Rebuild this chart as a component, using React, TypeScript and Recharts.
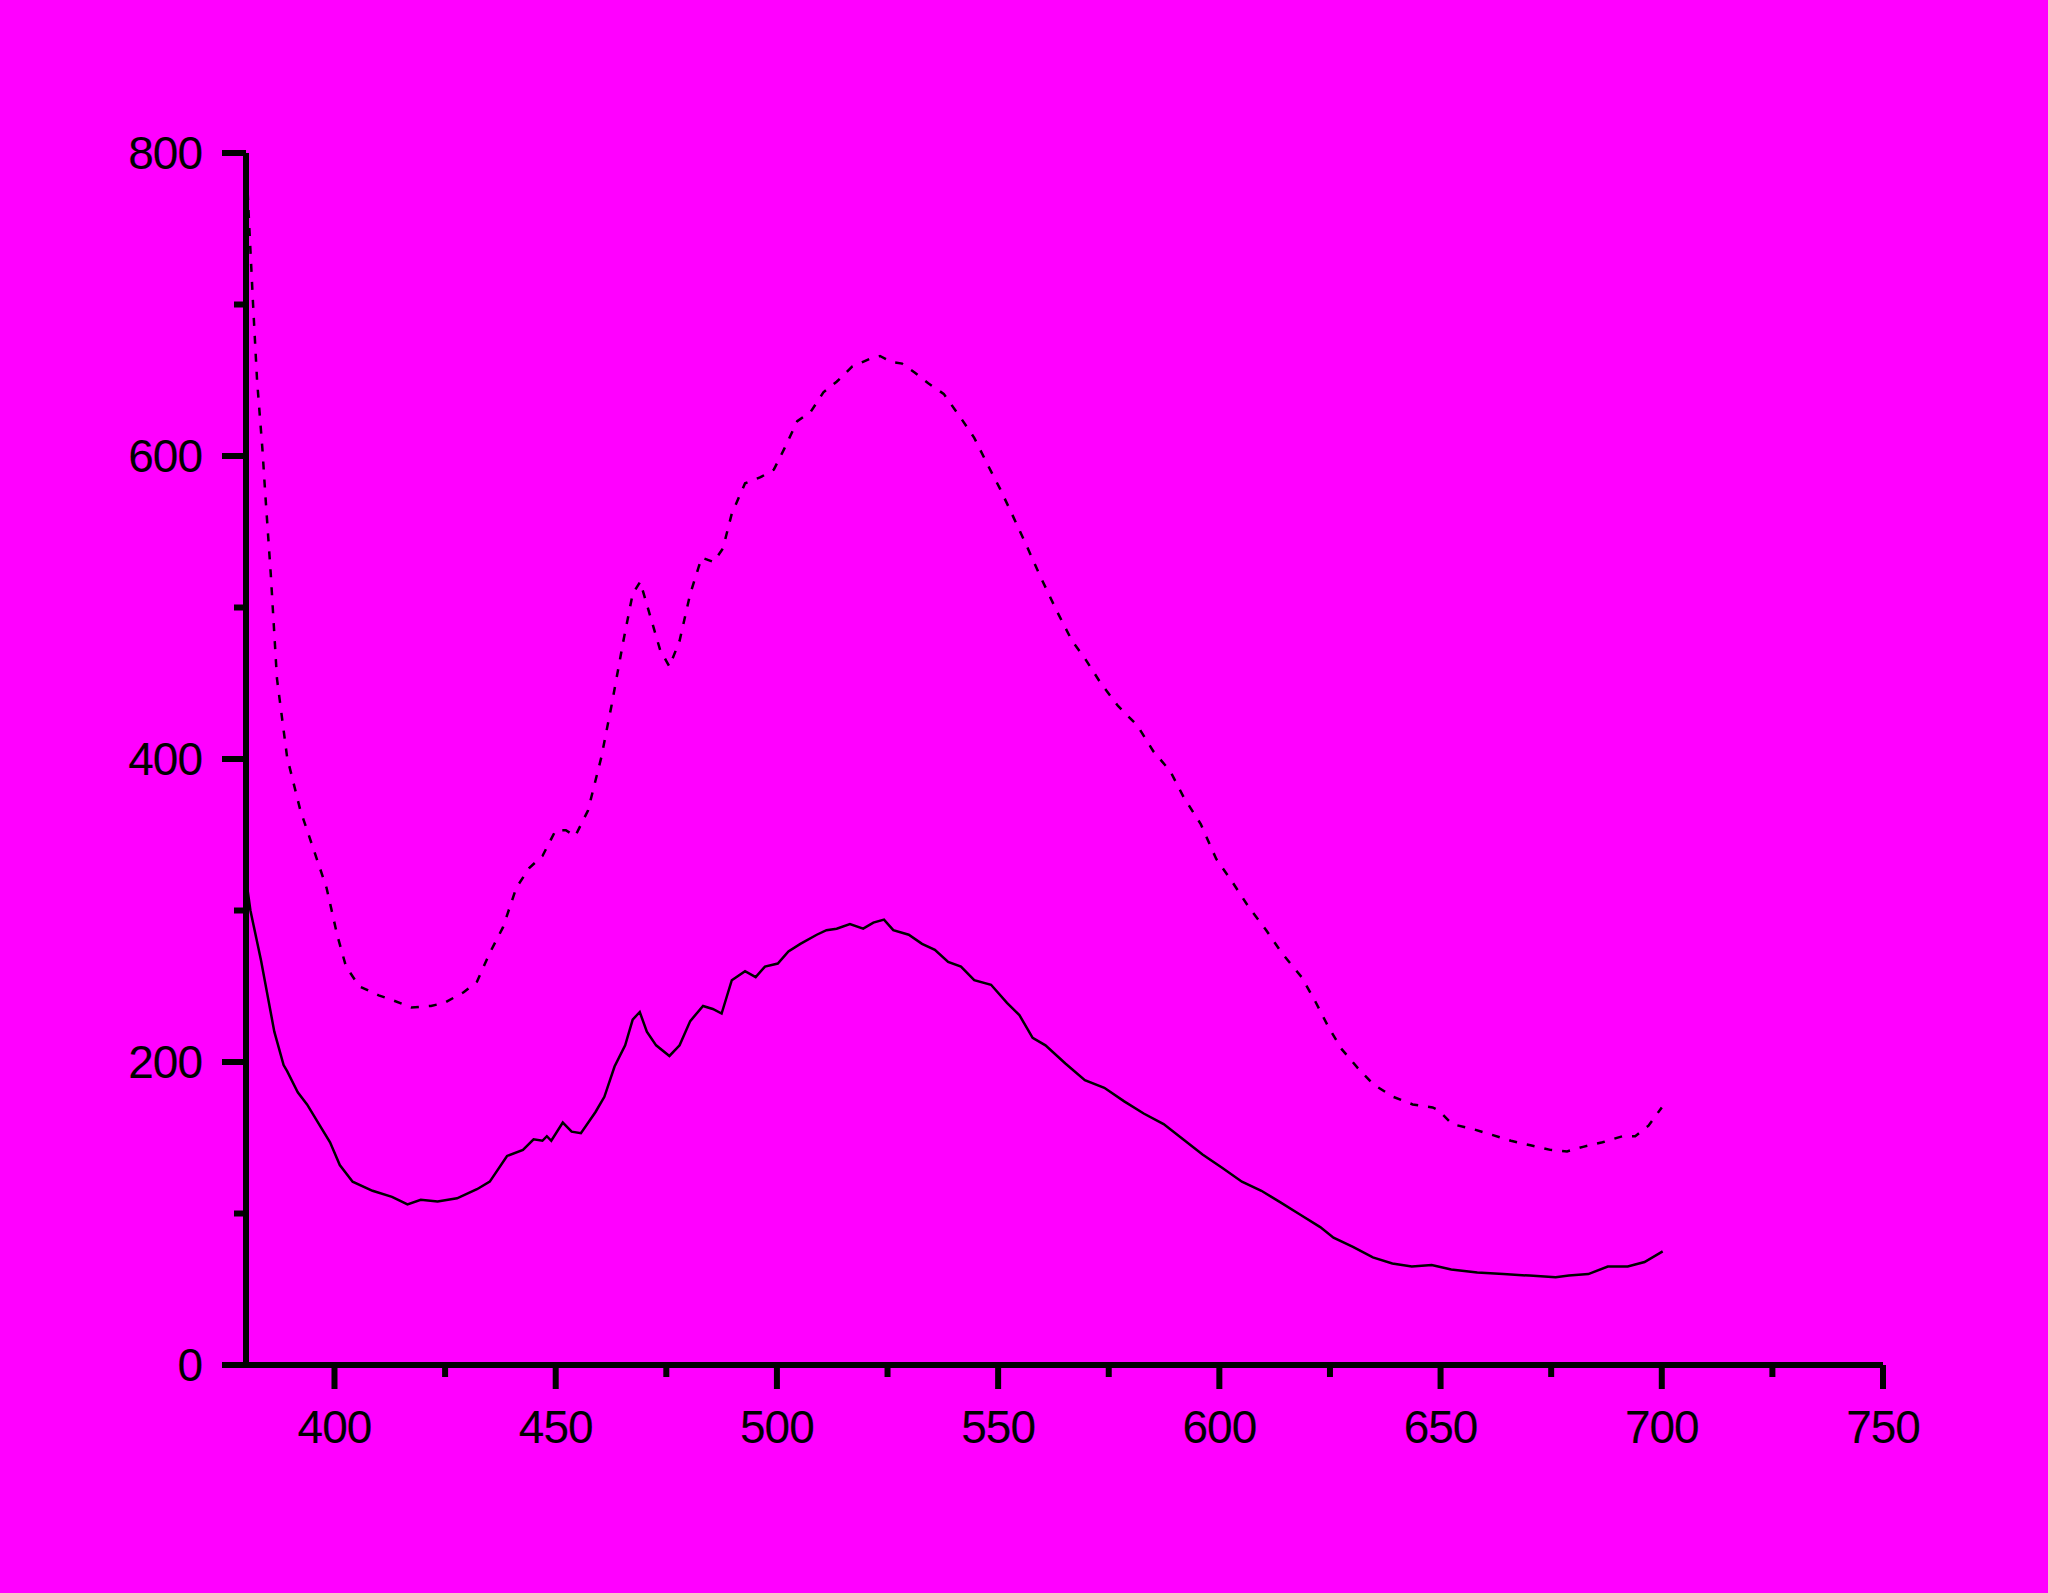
import { LineChart, Line, XAxis, YAxis } from "recharts"

const solidWl = [
  380, 381, 383.4, 386.4, 388.5, 389.3, 391.7, 393.8, 396.7, 399, 401.2, 404.1, 408.6, 413, 416.5, 419.5,
  423.3, 427.7, 432.2, 435.1, 439, 442.6, 445, 447, 448, 449, 451.6, 453.6, 455.7, 459, 461, 463.3, 465.7,
  467.4, 469, 470.6, 472.7, 475.7, 478, 480.4, 483.3, 485.5, 487.5, 489.8, 492.8, 495.2, 497.3, 500.2,
  502.6, 505.3, 509, 511.2, 513.5, 516.5, 519.5, 521.8, 524.2, 526.3, 529.8, 532.8, 535.7, 538.7, 541.6,
  544.6, 548.4, 552, 554.8, 557.8, 560.7, 565.2, 569.6, 574, 578.5, 582.9, 587.4, 591.8, 596.2, 600.7,
  605.1, 609.5, 614, 618.4, 622.8, 625.8, 630.2, 634.7, 639.1, 643.5, 648, 652.4, 658.3, 664.2, 670.1,
  676, 679, 683.4, 687.8, 692.3, 696.1, 700.2,
]
const solidVal = [
  321, 300, 267, 220, 198, 194, 180, 172, 158, 147, 132, 121, 115, 111, 106, 109,
  108, 110, 116, 121, 138, 142, 149, 148, 151, 148, 160, 154, 153, 167, 177, 197, 211,
  228, 233, 220, 211, 204, 211, 227, 237, 235, 232, 254, 260, 256, 263, 265,
  273, 278, 284, 287, 288, 291, 288, 292, 294, 287, 284, 278, 274, 266, 263,
  254, 251, 239, 231, 216, 211, 199, 188, 183, 174, 166, 159, 149, 139, 130,
  121, 115, 107, 99, 91, 84, 78, 71, 67, 65, 66, 63, 61, 60, 59,
  58, 59, 60, 65, 65, 68, 75,
]

const dashWl = [
  380, 380.6, 381.6, 382.5, 383.7, 384.4, 385.6, 387, 389.3, 392.3, 395.2, 398.2, 400.6, 402.6, 405.6,
  410, 413, 417.4, 421.8, 424.8, 429.2, 432.2, 435.1, 438.1, 441.1, 444, 447, 450, 452.3, 454.4, 457.3,
  460.3, 462.6, 465.3, 467.4, 469.1, 471.2, 473.6, 475.7, 478, 480.4, 483, 485.7, 487.8, 489.8, 492.8,
  496.3, 499.3, 501.7, 504.6, 507.6, 510.5, 513.5, 517, 520.9, 523.3, 525.9, 528.3, 531.2, 534.2, 537.7,
  541.6, 544.6, 547.5, 550.5, 553.4, 556.4, 559.3, 563.2, 566.7, 569.7, 573.2, 577.1, 581.5, 585.1,
  588.9, 591.9, 595.8, 599.3, 602.9, 606.7, 610.6, 614.1, 618.6, 621.5, 624.5, 627.5, 631.3, 634.9,
  639.3, 643.7, 648.2, 649.6, 652.6, 657, 661.5, 665.9, 670.3, 674.8, 678.6, 682.2, 686.6, 691.1, 694,
  697, 700,
]
const dashVal = [
  798, 760, 700, 650, 605, 573, 522, 453, 401, 366, 341, 315, 284, 263, 250,
  244, 241, 236, 237, 239, 246, 253, 272, 289, 315, 328, 336, 353, 353, 349, 366,
  401, 435, 478, 509, 517, 496, 472, 461, 478, 509, 533, 530, 539, 562, 582,
  586, 591, 605, 623, 629, 642, 649, 659, 664, 666, 662, 661, 655, 648, 641,
  625, 612, 595, 578, 560, 541, 522, 498, 478, 466, 450, 435, 422, 405,
  392, 375, 357, 334, 319, 302, 287, 272, 256, 241, 224, 209, 196, 185,
  177, 172, 170, 168, 159, 156, 152, 148, 145, 142, 141, 144, 147, 151, 151,
  158, 170,
]

const xTicks = [400, 425, 450, 475, 500, 525, 550, 575, 600, 625, 650, 675, 700, 725, 750]
const yTicks = [0, 100, 200, 300, 400, 500, 600, 700, 800]

const solidData = solidWl.map((x, i) => ({ x, y: solidVal[i] }))
const dashData = dashWl.map((x, i) => ({ x, y: dashVal[i] }))

const font = "'Liberation Sans', Arial, sans-serif"

// tickSize/tickMargin are 0, so x,y given to the tick is the point on the axis line
const XTick = (props: any) => {
  const { x, y, payload } = props
  const major = payload.value % 50 === 0
  return (
    <g>
      <line x1={x} x2={x} y1={y} y2={y + (major ? 24 : 12)} stroke="#000" strokeWidth={6} />
      {major && (
        <text x={x} y={y + 78} textAnchor="middle" fontSize={46} fontFamily={font} fill="#000" letterSpacing={-1}>
          {payload.value}
        </text>
      )}
    </g>
  )
}

const YTick = (props: any) => {
  const { x, y, payload } = props
  const major = payload.value % 200 === 0
  return (
    <g>
      <line x1={x - (major ? 24 : 12)} x2={x} y1={y} y2={y} stroke="#000" strokeWidth={6} />
      {major && (
        <text x={x - 44} y={y + 16} textAnchor="end" fontSize={46} fontFamily={font} fill="#000" letterSpacing={-1}>
          {payload.value}
        </text>
      )}
    </g>
  )
}

export default function App() {
  return (
    <div style={{ position: "absolute", left: 0, top: 0, width: 2048, height: 1593, background: "#ff00ff" }}>
      <LineChart width={2048} height={1593} margin={{ top: 153, right: 165, bottom: 128, left: 146 }}>
        <XAxis
          dataKey="x"
          type="number"
          domain={[380, 750]}
          ticks={xTicks}
          allowDataOverflow
          height={100}
          tickSize={0}
          tickMargin={0}
          tickLine={false}
          axisLine={{ stroke: "#000", strokeWidth: 6 }}
          tick={<XTick />}
          interval={0}
        />
        <YAxis
          type="number"
          domain={[0, 800]}
          ticks={yTicks}
          width={100}
          tickSize={0}
          tickMargin={0}
          tickLine={false}
          axisLine={{ stroke: "#000", strokeWidth: 6 }}
          tick={<YTick />}
          interval={0}
        />
        <Line data={dashData} dataKey="y" type="linear" stroke="#000" strokeWidth={2.5} strokeDasharray="8 10" dot={false} isAnimationActive={false} />
        <Line data={solidData} dataKey="y" type="linear" stroke="#000" strokeWidth={2.5} dot={false} isAnimationActive={false} />
      </LineChart>
    </div>
  )
}
